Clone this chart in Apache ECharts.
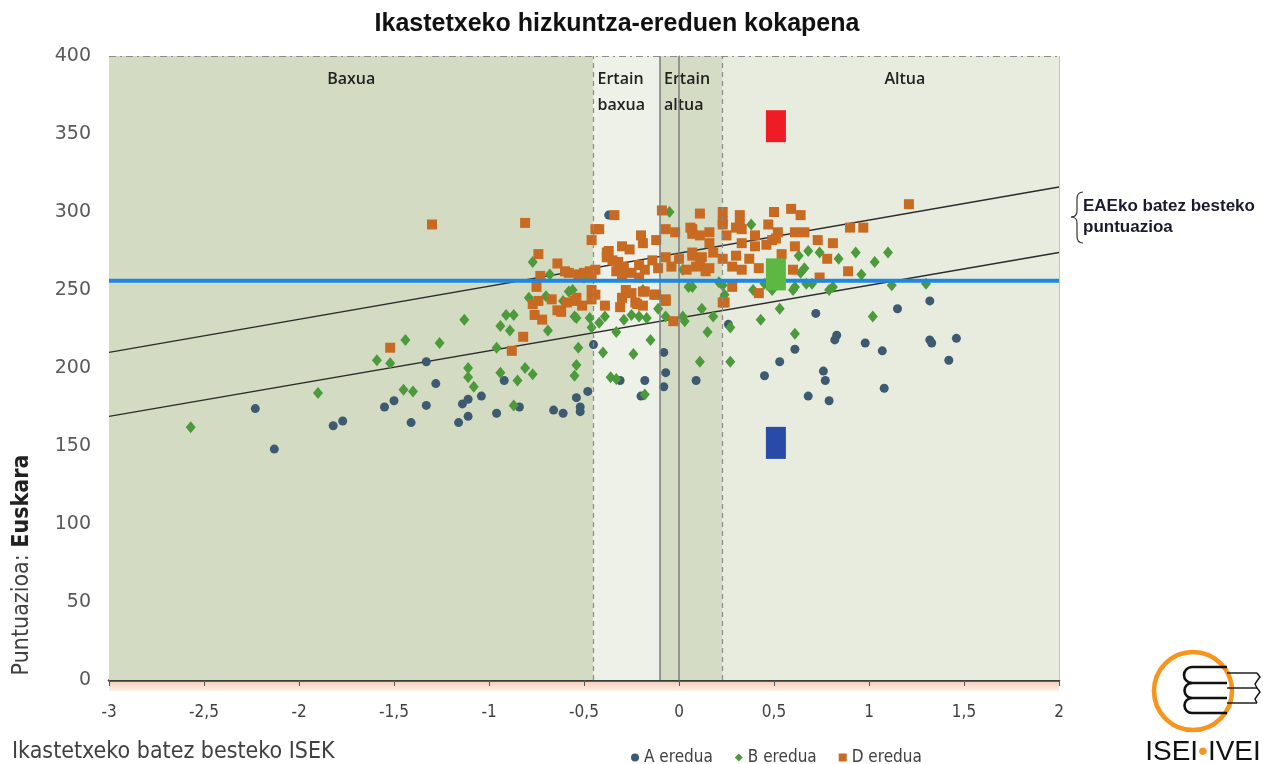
<!DOCTYPE html>
<html>
<head>
<meta charset="utf-8">
<title>Ikastetxeko hizkuntza-ereduen kokapena</title>
<script src="https://cdn.jsdelivr.net/npm/echarts@6/dist/echarts.min.js"></script>
<style>
  html, body { margin: 0; padding: 0; background: #fff; }
  #chart { width: 1263px; height: 764px; }
</style>
</head>
<body>
<div id="chart"></div>
<script>
// Ikastetxeko hizkuntza-ereduen kokapena: ISEK (x) vs Euskara puntuazioa (y)

const X_MIN = -3, X_MAX = 2;
const Y_MIN = 0, Y_MAX = 400;

// ISEK tartea (bandak)
const BAND_NAMES = ['Baxua', 'Ertain\nbaxua', 'Ertain\naltua', 'Altua'];
const BAND_EDGES = [-3, -0.45, -0.1, 0.23, 2];
const DIVIDERS = [-0.45, -0.1, 0, 0.23];

// EAEko batez besteko puntuazioa + bi erregresio-lerroak
const EAE_MEAN = 256;
const UPPER_LINE = [[-3, 210], [2, 316]];
const LOWER_LINE = [[-3, 169], [2, 274]];

// laukizuzen handiak (gorria, berdea, urdina)
const REF_X = 0.51;
const REF_Y = [355, 260, 152];

// A eredua
const A_POINTS = [
  [-2.23,174],[-2.13,148],[-1.82,163],[-1.77,166],[-1.55,175],[-1.50,179],[-1.41,165],[-1.33,176],
  [-1.33,204],[-1.28,190],[-1.16,165],[-1.14,177],[-1.11,180],[-1.11,169],[-1.04,182],[-0.96,171],
  [-0.92,192],[-0.84,175],[-0.66,173],[-0.61,171],[-0.54,181],[-0.52,175],[-0.52,172],[-0.48,185],
  [-0.45,215],[-0.37,298],[-0.31,192],[-0.18,192],[-0.20,182],[-0.08,210],[-0.07,197],[-0.08,188],
  [0.09,192],[0.26,228],[0.45,195],[0.53,204],[0.61,212],[0.72,235],[0.68,182],[0.76,198],
  [0.77,192],[0.79,179],[0.82,218],[0.83,221],[0.98,216],[1.07,211],[1.08,187],[1.15,238],
  [1.32,243],[1.32,218],[1.33,216],[1.46,219],[1.42,205]
];

// B eredua
const B_POINTS = [
  [-2.57,162],[-1.90,184],[-1.59,205],[-1.52,203],[-1.44,218],[-1.26,216],[-1.45,186],[-1.40,185],
  [-1.13,231],[-1.11,200],[-1.11,194],[-1.08,188],[-0.96,213],[-0.94,197],[-0.94,227],[-0.89,224],
  [-0.91,234],[-0.87,234],[-0.85,192],[-0.81,200],[-0.77,196],[-0.87,176],[-0.69,224],[-0.54,232],
  [-0.53,213],[-0.54,202],[-0.55,195],[-0.47,232],[-0.46,226],[-0.77,268],[-0.68,260],[-0.70,246],
  [-0.79,245],[-0.61,243],[-0.56,250],[-0.55,233],[-0.42,229],[-0.39,233],[-0.40,210],[-0.33,223],
  [-0.29,231],[-0.25,234],[-0.21,233],[-0.17,232],[-0.24,209],[-0.15,218],[-0.36,194],[-0.33,193],
  [-0.18,183],[-0.11,238],[0.03,230],[0.15,223],[0.18,233],[0.11,204],[0.27,204],[0.27,226],
  [0.43,231],[0.53,238],[0.61,222],[1.02,233],[0.38,292],[-0.05,300],[0.68,275],[0.74,274],
  [0.63,272],[0.84,270],[0.93,274],[1.10,274],[1.03,268],[0.96,260],[0.66,264],[0.64,261],
  [0.67,254],[0.70,254],[0.61,252],[0.81,252],[1.12,253],[1.30,254],[0.39,250],[0.49,250],
  [0.45,254],[0.60,250],[0.79,250],[-0.58,249],[0.02,263],[0.07,252],[0.21,255],[0.24,247],
  [-0.19,250],[-0.07,233],[0.02,233],[0.12,238],[0.23,253],[0.23,244],[0.05,252],[-0.50,258]
];

// D eredua
const D_POINTS = [
  [-1.30,292],[-0.81,293],[-0.74,273],[-0.64,267],[-0.73,259],[-0.75,252],[-0.77,241],[-0.74,243],
  [-0.67,244],[-0.76,234],[-0.72,231],[-0.64,237],[-0.55,243],[-0.58,261],[-0.53,260],[-0.47,262],
  [-0.46,282],[-0.44,289],[-1.52,213],[-0.82,220],[-0.88,211],[-0.60,262],[-0.50,261],[-0.54,245],
  [-0.46,250],[-0.44,247],[-0.46,244],[-0.39,240],[-0.31,239],[-0.23,242],[-0.42,289],[-0.34,298],
  [-0.09,301],[0.11,299],[-0.38,274],[-0.35,269],[-0.30,278],[-0.26,276],[-0.20,285],[-0.19,280],
  [-0.12,282],[-0.07,289],[-0.02,287],[0.06,290],[0.07,286],[-0.33,262],[-0.30,265],[-0.25,261],
  [-0.21,266],[-0.18,263],[-0.14,269],[-0.11,264],[-0.07,271],[-0.04,265],[0.00,270],[0.04,263],
  [0.07,272],[0.11,266],[0.14,262],[-0.28,250],[-0.25,248],[-0.18,249],[-0.12,247],[-0.07,244],
  [-0.19,240],[-0.30,245],[0.23,300],[0.32,298],[0.23,292],[0.32,292],[0.50,300],[0.59,302],
  [0.64,298],[0.47,292],[0.52,287],[0.61,287],[0.66,287],[0.90,290],[0.97,290],[1.21,305],
  [0.73,282],[0.81,280],[0.61,278],[0.78,270],[0.89,262],[0.74,258],[0.60,263],[0.54,273],
  [0.42,264],[0.42,248],[0.28,252],[0.24,242],[0.16,287],[0.25,285],[0.33,289],[0.40,285],
  [0.49,282],[0.40,278],[0.33,280],[0.46,279],[0.51,283],[0.07,289],[0.11,285],[0.16,280],
  [0.07,274],[0.12,271],[0.18,274],[0.23,270],[0.28,265],[0.33,263],[0.16,264],[0.09,265],
  [0.30,272],[0.37,270],[0.23,294],[0.30,290],[-0.37,275],[-0.38,271],[-0.32,268],[-0.29,264],
  [-0.30,259],[-0.21,258],[-0.44,263],[-0.46,259],[-0.19,249],[-0.22,241],[-0.13,247],[-0.07,243],
  [-0.03,230],[0.23,242],[-0.51,240],[-0.62,236],[-0.59,242]
];

const COLORS = {
  A: '#3e5a70',
  B: '#4c9a3c',
  D: '#c96a22',
  mean: '#1c88e4',
  reg: '#2b2b2b',
  ref: ['#ee1c24', '#5cb843', '#2a4aa8'],
  bands: ['#d3dcc3', '#eef1e8', '#d5dcc6', '#e8ecdf'],
};

const NARROW = '"Liberation Sans Narrow", "DejaVu Sans Condensed", "Liberation Sans", sans-serif';

const bandLabel = (i) => ({
  show: true,
  position: i === 0 || i === 3 ? 'insideTop' : 'insideTopLeft',
  offset: i === 3 ? [14, 0] : (i === 0 ? [0, 0] : [-6, 0]),
  distance: 10,
  color: '#222',
  fontFamily: '"Open Sans", sans-serif',
  fontWeight: 600,
  fontSize: 16,
  lineHeight: 26,
  formatter: '{b}',
});

// logotipoa eta giltza: marrazki apaingarriak
const line = (x1, y1, x2, y2, w) => ({
  type: 'line', silent: true,
  shape: { x1, y1, x2, y2 },
  style: { stroke: '#111', lineWidth: w },
});
const quad = (x1, y1, cpx1, cpy1, x2, y2) => ({
  type: 'bezierCurve', silent: true,
  shape: { x1, y1, cpx1, cpy1, x2, y2 },
  style: { stroke: '#333', lineWidth: 1.2, fill: null },
});
const bump = (cy, r) => ({
  type: 'arc', silent: true,
  shape: { cx: 1192, cy, r, startAngle: Math.PI / 2, endAngle: Math.PI * 1.5, clockwise: true },
  style: { stroke: '#111', lineWidth: 2.6, fill: null },
});

const chart = echarts.init(document.getElementById('chart'), null, { renderer: 'canvas' });

const option = {
  animation: false,
  backgroundColor: '#fff',
  title: {
    text: 'Ikastetxeko hizkuntza-ereduen kokapena',
    left: 612, top: 7, textAlign: 'center',
    textStyle: { fontFamily: '"Liberation Sans", Arial, sans-serif', fontWeight: 'bold', fontSize: 25, color: '#111' },
  },
  grid: { left: 109, right: 204, top: 56, bottom: 84, containLabel: false },
  legend: {
    left: 626, top: 744,
    itemWidth: 8, itemHeight: 8, itemGap: 22,
    textStyle: { fontFamily: NARROW, fontSize: 17, color: '#404040' },
    data: [
      { name: 'A eredua', icon: 'circle' },
      { name: 'B eredua', icon: 'diamond' },
      { name: 'D eredua', icon: 'rect' },
    ],
  },
  xAxis: {
    type: 'value', min: X_MIN, max: X_MAX, interval: 0.5,
    splitLine: { show: false },
    axisLine: { onZero: false, lineStyle: { color: '#3b3b3b', width: 2.5 } },
    axisTick: { show: true, length: 6, lineStyle: { color: '#555' } },
    axisLabel: {
      margin: 24, fontFamily: NARROW, fontSize: 17, color: '#404040',
      formatter: (v) => String(v).replace('.', ','),
    },
  },
  yAxis: {
    type: 'value', min: Y_MIN, max: Y_MAX, interval: 50,
    splitLine: { show: false },
    axisLine: { show: true, lineStyle: { color: '#888', type: [5, 4], width: 1 } },
    axisTick: { show: false },
    axisLabel: { margin: 18, fontFamily: '"DejaVu Sans", Verdana, sans-serif', fontSize: 19, color: '#595959' },
  },
  graphic: [
    {
      type: 'text', x: 12, y: 752, silent: true,
      style: { text: 'Ikastetxeko batez besteko ISEK', verticalAlign: 'middle', fontFamily: NARROW, fontSize: 23, fill: '#404040' },
    },
    {
      type: 'text', x: 22, y: 565, rotation: Math.PI / 2, silent: true,
      style: {
        text: '{a|Puntuazioa: }{b|Euskara}', align: 'center', verticalAlign: 'middle',
        rich: {
          a: { fontFamily: NARROW, fontSize: 23, fill: '#404040' },
          b: { fontFamily: NARROW, fontSize: 23, fontWeight: 'bold', fill: '#222' },
        },
      },
    },
    {
      type: 'text', x: 1083, y: 196, silent: true,
      style: {
        text: 'EAEko batez besteko\npuntuazioa', lineHeight: 21,
        fontFamily: '"Liberation Sans", Arial, sans-serif', fontWeight: 'bold', fontSize: 17, fill: '#1a1a2e',
      },
    },
    // giltza
    quad(1083, 192, 1077, 192, 1077, 199),
    { ...line(1077, 199, 1077, 211, 1.2), style: { stroke: '#333', lineWidth: 1.2 } },
    quad(1077, 211, 1077, 217, 1071, 217),
    quad(1071, 217, 1077, 217, 1077, 223),
    { ...line(1077, 223, 1077, 236, 1.2), style: { stroke: '#333', lineWidth: 1.2 } },
    quad(1077, 236, 1077, 243, 1083, 243),
    // ISEI-IVEI logotipoa
    {
      type: 'circle', silent: true,
      shape: { cx: 1193, cy: 691, r: 39 },
      style: { stroke: '#f7941d', lineWidth: 4.5, fill: null },
    },
    line(1192, 667, 1227, 667, 2.6),
    line(1192, 683, 1227, 683, 2.6),
    line(1192, 698, 1227, 698, 2.6),
    line(1192, 713, 1227, 713, 2.6),
    bump(675, 8),
    bump(690.5, 7.5),
    bump(705.5, 7.5),
    line(1227, 673, 1257, 673, 1.4),
    line(1227, 688, 1257, 688, 1.4),
    line(1227, 703, 1257, 703, 1.4),
    {
      type: 'polyline', silent: true,
      shape: { points: [[1257, 673], [1260, 677], [1257, 681], [1255, 684], [1257, 688], [1260, 692], [1257, 696], [1255, 699], [1257, 703]] },
      style: { stroke: '#111', lineWidth: 1.4, fill: null },
    },
    {
      type: 'text', x: 1203, y: 752, silent: true,
      style: {
        text: '{a|ISEI}{b|•}{a|IVEI}', align: 'center', verticalAlign: 'middle',
        rich: {
          a: { fontFamily: '"Liberation Sans", Arial, sans-serif', fontSize: 28, fill: '#111' },
          b: { fontFamily: '"Liberation Sans", Arial, sans-serif', fontSize: 28, fill: '#f7941d' },
        },
      },
    },
  ],
  series: [
    {
      name: 'bands', type: 'scatter', data: [], silent: true, z: 0,
      markArea: {
        silent: true,
        data: BAND_NAMES.map((n, i) => [
          { name: n, xAxis: BAND_EDGES[i], itemStyle: { color: COLORS.bands[i] }, label: bandLabel(i) },
          { xAxis: BAND_EDGES[i + 1] },
        ]),
      },
      markLine: {
        silent: true, symbol: ['none', 'none'], label: { show: false },
        data: [
          ...DIVIDERS.map((x, i) => ({
            xAxis: x,
            lineStyle: (i === 0 || i === 3)
              ? { color: '#8a8a8a', type: [5, 4], width: 1.2 }
              : { color: '#7c7c7c', type: 'solid', width: 1.5 },
          })),
          { yAxis: Y_MAX, lineStyle: { color: '#8c8c8c', type: [7, 4, 2, 4], width: 1.2 } },
          { xAxis: X_MAX, lineStyle: { color: '#c4c4c4', type: 'solid', width: 1 } },
        ],
      },
    },
    {
      name: 'upper', type: 'line', data: UPPER_LINE, showSymbol: false, silent: true, z: 2,
      lineStyle: { color: COLORS.reg, width: 1.4 },
    },
    {
      name: 'lower', type: 'line', data: LOWER_LINE, showSymbol: false, silent: true, z: 2,
      lineStyle: { color: COLORS.reg, width: 1.4 },
    },
    {
      name: 'A eredua', type: 'scatter', data: A_POINTS, symbol: 'circle', symbolSize: 9, z: 3,
      itemStyle: { color: COLORS.A, opacity: 1 },
    },
    {
      name: 'B eredua', type: 'scatter', data: B_POINTS, symbol: 'diamond', symbolSize: [10, 12], z: 3,
      itemStyle: { color: COLORS.B, opacity: 1 },
    },
    {
      name: 'D eredua', type: 'scatter', data: D_POINTS, symbol: 'rect', symbolSize: 10, z: 3,
      itemStyle: { color: COLORS.D, opacity: 1 },
    },
    {
      name: 'mean', type: 'line', data: [[X_MIN, EAE_MEAN], [X_MAX, EAE_MEAN]], showSymbol: false, silent: true, z: 5,
      lineStyle: { color: COLORS.mean, width: 4 },
    },
    {
      name: 'ref', type: 'scatter', symbol: 'rect', symbolSize: [20, 32], silent: true, z: 6,
      itemStyle: { opacity: 1 },
      data: REF_Y.map((y, i) => ({ value: [REF_X, y], itemStyle: { color: COLORS.ref[i], opacity: 1 } })),
    },
  ],
};

chart.setOption(option);

// ardatzaren azpiko banda arrosa
const p0 = chart.convertToPixel({ gridIndex: 0 }, [X_MIN, 0]);
const p1 = chart.convertToPixel({ gridIndex: 0 }, [X_MAX, 0]);
chart.setOption({
  graphic: [{
    id: 'axisBand', type: 'rect', silent: true, z: -1,
    shape: { x: p0[0], y: p0[1] + 1, width: p1[0] - p0[0], height: 10 },
    style: {
      fill: new echarts.graphic.LinearGradient(0, 0, 0, 1, [
        { offset: 0, color: '#f4cdb6' }, { offset: 1, color: '#fcf1ea' },
      ]),
    },
  }],
});
</script>
</body>
</html>
